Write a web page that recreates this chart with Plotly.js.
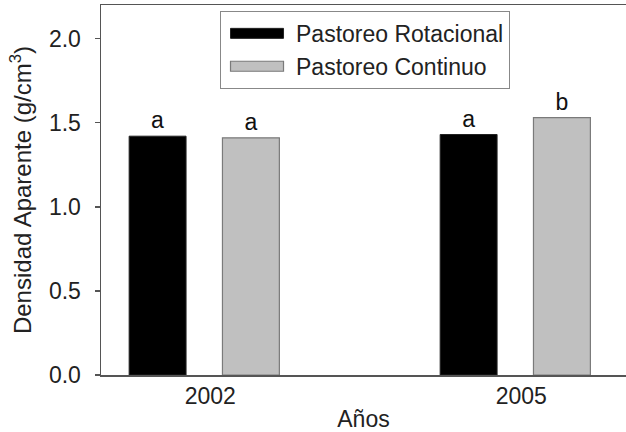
<!DOCTYPE html>
<html>
<head>
<meta charset="utf-8">
<script src="https://cdn.plot.ly/plotly-3.0.1.min.js"></script>
<style>html,body{margin:0;padding:0;background:#fff;}#chart{width:626px;height:432px;}</style>
</head>
<body>
<div id="chart"></div>
<script>
const years = ['2002', '2005'];
const seriesNames = ['Pastoreo Rotacional', 'Pastoreo Continuo'];
const rotacional = [1.42, 1.43];
const continuo = [1.41, 1.53];
const rotacionalLetters = ['a', 'a'];
const continuoLetters = ['a', 'b'];
const yTickVals = [0, 0.5, 1.0, 1.5, 2.0];

const FONT = 'Liberation Sans, Arial, sans-serif';
const FS = 23;

const traces = [
  {
    type: 'bar', name: seriesNames[0], x: years, y: rotacional,
    text: rotacionalLetters, textposition: 'outside', cliponaxis: false,
    textfont: {family: FONT, size: FS, color: '#111'},
    marker: {color: '#000000', line: {color: '#222', width: 1}}
  },
  {
    type: 'bar', name: seriesNames[1], x: years, y: continuo,
    text: continuoLetters, textposition: 'outside', cliponaxis: false,
    textfont: {family: FONT, size: FS, color: '#111'},
    marker: {color: '#c0c0c0', line: {color: '#7a7a7a', width: 1.2}}
  }
];

const layout = {
  width: 626, height: 432,
  margin: {l: 101, r: 0, t: 5, b: 57},
  paper_bgcolor: '#fff', plot_bgcolor: '#fff',
  font: {family: FONT, size: FS, color: '#222'},
  barmode: 'group', bargap: 0.4, bargroupgap: 0.39,
  showlegend: true,
  legend: {
    x: 0.2267, y: 0.984, xanchor: 'left', yanchor: 'top',
    bgcolor: '#fff', bordercolor: '#888', borderwidth: 1,
    font: {family: FONT, size: FS, color: '#222'},
    tracegroupgap: 0, itemwidth: 65
  },
  xaxis: {
    type: 'category', range: [-0.332, 1.356],
    showline: true, linecolor: '#555', linewidth: 1.5, mirror: true,
    ticks: '', showgrid: false, zeroline: false,
    ticklabelshift: 6,
    title: {text: 'Años', standoff: 4, font: {family: FONT, size: FS, color: '#222'}},
    tickfont: {family: FONT, size: FS, color: '#222'}
  },
  yaxis: {
    range: [0, 2.2], tickvals: yTickVals, tickformat: '.1f',
    showline: true, linecolor: '#555', linewidth: 1.5,
    ticks: 'outside', ticklen: 5, tickcolor: '#555', tickwidth: 1.5,
    ticklabelstandoff: 9,
    showgrid: false, zeroline: false,
    title: {text: 'Densidad Aparente (g/cm<sup>3</sup>)', standoff: 10, font: {family: FONT, size: 24, color: '#222'}},
    tickfont: {family: FONT, size: FS, color: '#222'}
  }
};

Plotly.newPlot('chart', traces, layout, {staticPlot: true}).then(function(gd){
  // flat wide legend swatches as in the reference
  gd.querySelectorAll('.legend .legendpoints path').forEach(function(p){
    p.setAttribute('d', 'M-28,5H25V-5H-28Z');
  });
});
</script>
</body>
</html>
